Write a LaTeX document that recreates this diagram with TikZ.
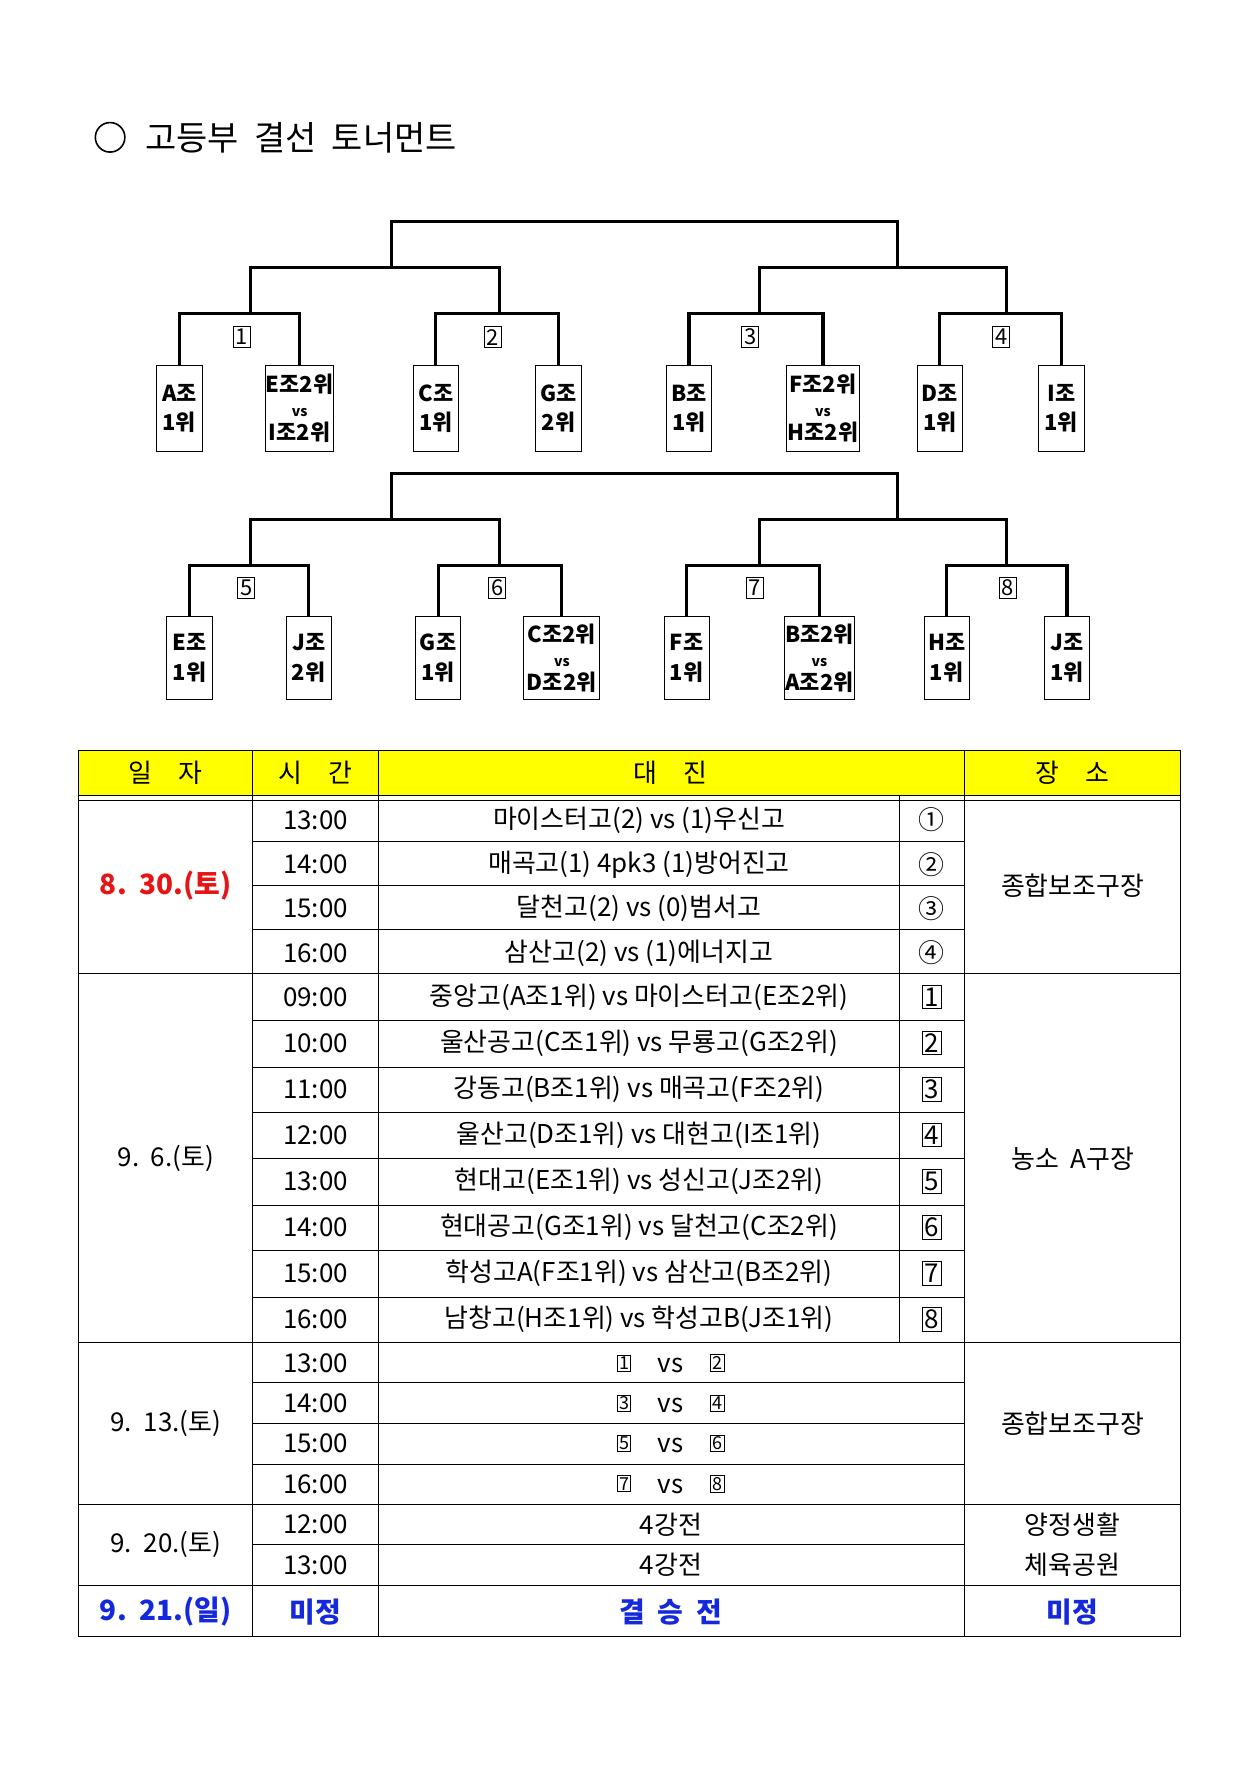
\documentclass[tikz,border=0pt]{standalone}
\usepackage{fontspec}
\setmainfont{Noto Sans CJK KR}
\usetikzlibrary{calc}
\definecolor{hdryellow}{RGB}{255,255,0}
\definecolor{datered}{RGB}{230,20,20}
\definecolor{dateblue}{RGB}{20,40,220}
\tikzset{
  bline/.style={line width=1.6pt},
  teambox/.style={draw,thin,anchor=north,align=center,inner sep=0pt,font=\fontsize{11}{15}\selectfont\bfseries},
  numbox/.style={draw,thin,inner sep=1.2pt,font=\fontsize{11}{12}\selectfont},
  smallbox/.style={draw,thin,inner sep=0.8pt,font=\fontsize{9}{10}\selectfont},
  cell/.style={font=\fontsize{13}{15}\selectfont}
}
\newcommand{\vsline}[2]{#1\\[-3pt]{\fontsize{7}{7}\selectfont vs}\\[-3pt]#2}
\begin{document}
\begin{tikzpicture}[x=0.2mm,y=-0.2mm]
        %%% PAGE %%%
        \useasboundingbox (0,0) rectangle (1110,1570);

        %%% TITLE %%%
        \draw[thick] (97,121) circle (13);
        \node[anchor=west,font=\fontsize{17}{20}\selectfont] (title) at (122,121) {고등부\ \ 결선\ \ 토너먼트};

        %%% FIRST BRACKET %%%
        \node[teambox,minimum width=8mm,minimum height=15mm] (a1) at (158,322) {A조\\1위};
        \node[teambox,minimum width=12mm,minimum height=15mm] (a2) at (264,322) {\vsline{E조2위}{I조2위}};
        \node[teambox,minimum width=8mm,minimum height=15mm] (a3) at (384,322) {C조\\1위};
        \node[teambox,minimum width=8mm,minimum height=15mm] (a4) at (492,322) {G조\\2위};
        \node[teambox,minimum width=8mm,minimum height=15mm] (a5) at (607,322) {B조\\1위};
        \node[teambox,minimum width=12.8mm,minimum height=15mm] (a6) at (725,322) {\vsline{F조2위}{H조2위}};
        \node[teambox,minimum width=8mm,minimum height=15mm] (a7) at (828,322) {D조\\1위};
        \node[teambox,minimum width=8mm,minimum height=15mm] (a8) at (935,322) {I조\\1위};
        \coordinate (r1) at (221,276); \coordinate (r2) at (440,276);
        \coordinate (r3) at (669,276); \coordinate (r4) at (887,276);
        \coordinate (q1) at (345,236); \coordinate (q2) at (791,236);
        \coordinate (t1) at (568,195);
        \draw[bline] (a1.north) |- (r1) -| (a2.north);
        \draw[bline] (a3.north) |- (r2) -| (a4.north);
        \draw[bline] (a5.north) |- (r3) -| (a6.north);
        \draw[bline] (a7.north) |- (r4) -| (a8.north);
        \draw[bline] (r1) |- (q1) -| (r2);
        \draw[bline] (r3) |- (q2) -| (r4);
        \draw[bline] (q1) |- (t1) -| (q2);
        \node[numbox] (n1) at (213,297) {1};
        \node[numbox] (n2) at (434,297) {2};
        \node[numbox] (n3) at (661,297) {3};
        \node[numbox] (n4) at (882,297) {4};

        %%% SECOND BRACKET %%%
        \node[teambox,minimum width=8mm,minimum height=14.6mm] (b1) at (167,543) {E조\\1위};
        \node[teambox,minimum width=8mm,minimum height=14.6mm] (b2) at (272,543) {J조\\2위};
        \node[teambox,minimum width=8mm,minimum height=14.6mm] (b3) at (386,543) {G조\\1위};
        \node[teambox,minimum width=13.4mm,minimum height=14.6mm] (b4) at (495,543) {\vsline{C조2위}{D조2위}};
        \node[teambox,minimum width=8mm,minimum height=14.6mm] (b5) at (605,543) {F조\\1위};
        \node[teambox,minimum width=12.4mm,minimum height=14.6mm] (b6) at (722,543) {\vsline{B조2위}{A조2위}};
        \node[teambox,minimum width=8mm,minimum height=14.6mm] (b7) at (834,543) {H조\\1위};
        \node[teambox,minimum width=8mm,minimum height=14.6mm] (b8) at (940,543) {J조\\1위};
        \coordinate (s1) at (221,498); \coordinate (s2) at (440,498);
        \coordinate (s3) at (669,498); \coordinate (s4) at (887,498);
        \coordinate (p1) at (345,458); \coordinate (p2) at (791,458);
        \coordinate (t2) at (568,417);
        \draw[bline] (b1.north) |- (s1) -| (b2.north);
        \draw[bline] (b3.north) |- (s2) -| (b4.north);
        \draw[bline] (b5.north) |- (s3) -| (b6.north);
        \draw[bline] (b7.north) |- (s4) -| (b8.north);
        \draw[bline] (s1) |- (p1) -| (s2);
        \draw[bline] (s3) |- (p2) -| (s4);
        \draw[bline] (p1) |- (t2) -| (p2);
        \node[numbox] (n5) at (217,518) {5};
        \node[numbox] (n6) at (438,518) {6};
        \node[numbox] (n7) at (665,518) {7};
        \node[numbox] (n8) at (888,518) {8};

        %%% TABLE FRAME %%%
        \fill[hdryellow] (69,661) rectangle (1040,701);
        \draw (69,661) rectangle (1040,1442);
        \draw (69,701) -- (1040,701);
        \draw (69,705) -- (1040,705);
        \foreach \x in {222,333,850} \draw (\x,661) -- (\x,1442);
        \draw (792,701) -- (792,1183);
        \foreach \y in {858,1183,1325,1397} \draw (69,\y) -- (1040,\y);
        \foreach \y in {741,780,819,899,940,980,1021,1062,1102,1143,1218,1254,1290,1361}
            \draw (222,\y) -- (850,\y);

        %%% HEADER %%%
        \node[cell] (h1) at (146,681) {일\quad 자};
        \node[cell] (h2) at (278,681) {시\quad 간};
        \node[cell] (h3) at (591,681) {대\quad 진};
        \node[cell] (h4) at (945,681) {장\quad 소};

        %%% 8.30 %%%
        \node[cell,text=datered,font=\fontsize{14}{16}\selectfont\bfseries] (d1) at (146,780) {8.\ \ 30.(토)};
        \foreach \t/\m/\c [count=\i] in {13:00/마이스터고(2) vs (1)우신고/①,14:00/매곡고(1) 4pk3 (1)방어진고/②,15:00/달천고(2) vs (0)범서고/③,16:00/삼산고(2) vs (1)에너지고/④}{
            \node[cell] at (278,{703+39*(\i-0.5)}) {\t};
            \node[cell] at (563,{703+39*(\i-0.5)}) {\m};
            \node[cell] at (821,{703+39*(\i-0.5)}) {\c};
        }
        \node[cell] (v1) at (945,780) {종합보조구장};

        %%% 9.6 %%%
        \node[cell] (d2) at (146,1021) {9.\ \ 6.(토)};
        \foreach \t/\m [count=\i] in {09:00/중앙고(A조1위) vs 마이스터고(E조2위),10:00/울산공고(C조1위) vs 무룡고(G조2위),11:00/강동고(B조1위) vs 매곡고(F조2위),12:00/울산고(D조1위) vs 대현고(I조1위),13:00/현대고(E조1위) vs 성신고(J조2위),14:00/현대공고(G조1위) vs 달천고(C조2위),15:00/학성고A(F조1위) vs 삼산고(B조2위),16:00/남창고(H조1위) vs 학성고B(J조1위)}{
            \node[cell] at (278,{858+40.6*(\i-0.5)}) {\t};
            \node[cell] at (563,{858+40.6*(\i-0.5)}) {\m};
            \node[numbox,font=\fontsize{13}{14}\selectfont] at (821,{858+40.6*(\i-0.5)}) {\i};
        }
        \node[cell] (v2) at (945,1021) {농소\ \ A구장};

        %%% 9.13 %%%
        \node[cell] (d3) at (146,1254) {9.\ \ 13.(토)};
        \foreach \t/\u/\w [count=\i] in {13:00/1/2,14:00/3/4,15:00/5/6,16:00/7/8}{
            \node[cell] at (278,{1183+35.5*(\i-0.5)}) {\t};
            \node[smallbox] at (550,{1183+35.5*(\i-0.5)}) {\u};
            \node[cell] at (591,{1185+35.5*(\i-0.5)}) {vs};
            \node[smallbox] at (632,{1183+35.5*(\i-0.5)}) {\w};
        }
        \node[cell] (v3) at (945,1254) {종합보조구장};

        %%% 9.20 %%%
        \node[cell] (d4) at (146,1361) {9.\ \ 20.(토)};
        \node[cell] at (278,1343) {12:00};
        \node[cell] at (278,1379) {13:00};
        \node[cell] at (591,1343) {4강전};
        \node[cell] at (591,1379) {4강전};
        \node[cell,align=center,font=\fontsize{13}{20}\selectfont] (v4) at (945,1361) {양정생활\\체육공원};

        %%% FINAL %%%
        \node[text=dateblue,font=\fontsize{14}{16}\selectfont\bfseries] (d5) at (146,1420) {9.\ \ 21.(일)};
        \node[text=dateblue,font=\fontsize{14}{16}\selectfont\bfseries] at (278,1420) {미정};
        \node[text=dateblue,font=\fontsize{14}{16}\selectfont\bfseries] at (591,1420) {결\ \ 승\ \ 전};
        \node[text=dateblue,font=\fontsize{14}{16}\selectfont\bfseries] at (945,1420) {미정};
    \end{tikzpicture}
\end{document}
